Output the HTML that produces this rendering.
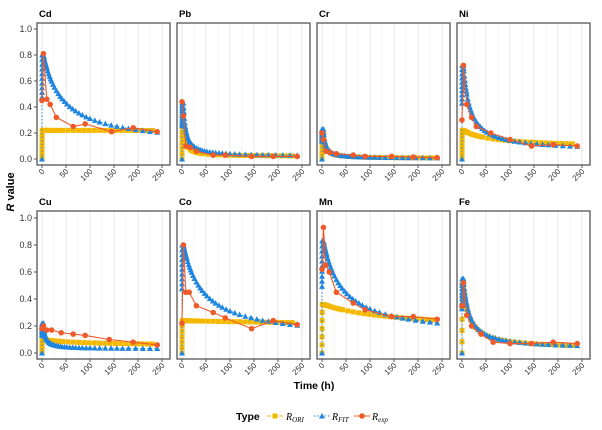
<!DOCTYPE html>
<html><head><meta charset="utf-8"><style>
html,body{margin:0;padding:0;background:#fff;}
svg{display:block;font-family:"Liberation Sans",Arial,sans-serif;}
</style></head><body>
<svg id="s" width="602" height="430" xmlns="http://www.w3.org/2000/svg"></svg>
<script>
const S=document.getElementById('s');
let h='';
const YEL='#f5b800',BLU='#1f86e0',RED='#ef5a2a';
function fitF(p,tail,k,t){return tail+(p-tail)/(1+t/k);}
const panels=[
 {n:'Cd',r:0,c:0,fp:.8,ft:.1,fk:42,op:.22,ot:.21,ok:9999,exp:[[0,.45],[3,.81],[10,.46],[17,.42],[30,.32],[65,.25],[90,.27],[145,.21],[190,.24],[240,.21]]},
 {n:'Pb',r:0,c:1,fp:.43,ft:.02,fk:5,op:.25,ot:.02,ok:4,exp:[[0,.44],[3,.33],[8,.1],[17,.09],[30,.06],[65,.03],[90,.03],[145,.02],[190,.02],[240,.02]]},
 {n:'Cr',r:0,c:2,fp:.23,ft:.005,fk:4,op:.2,ot:.005,ok:4,exp:[[0,.2],[3,.15],[8,.06],[17,.05],[30,.04],[65,.03],[90,.02],[145,.02],[190,.015],[240,.01]]},
 {n:'Ni',r:0,c:3,fp:.72,ft:.06,fk:14,op:.22,ot:.09,ok:60,exp:[[0,.3],[3,.72],[10,.42],[20,.32],[30,.25],[60,.2],[100,.15],[145,.1],[190,.11],[240,.1]]},
 {n:'Cu',r:1,c:0,fp:.22,ft:.03,fk:4,op:.1,ot:.055,ok:80,exp:[[0,.18],[3,.2],[10,.17],[20,.17],[40,.15],[65,.14],[90,.13],[140,.1],[190,.08],[240,.06]]},
 {n:'Co',r:1,c:1,fp:.8,ft:.1,fk:42,op:.24,ot:.2,ok:400,exp:[[0,.22],[3,.8],[8,.45],[15,.45],[30,.35],[65,.3],[90,.26],[145,.18],[190,.24],[240,.21]]},
 {n:'Mn',r:1,c:2,fp:.83,ft:.12,fk:40,op:.36,ot:.17,ok:150,exp:[[0,.62],[3,.93],[8,.65],[15,.6],[30,.45],[65,.37],[90,.32],[145,.27],[190,.27],[240,.25]]},
 {n:'Fe',r:1,c:3,fp:.55,ft:.03,fk:12,op:.5,ot:.03,ok:13,exp:[[0,.35],[3,.52],[10,.28],[20,.2],[40,.14],[65,.08],[100,.07],[145,.07],[190,.08],[240,.07]]},
];
const T=[3,3.5,4,5,6,7,8,9,10,12,14,16,18,20,23,26,30,34,38,42,47,52,58,64,70,77,84,92,100,110,120,132,144,156,168,180,195,210,225,240];
const TO=[];for(let t=3;t<=240;t+=(t<12?2:(t<40?5:11)))TO.push(t);
function tri(x,y){return `<path d="M${x-3},${y+2.5}L${x+3},${y+2.5}L${x},${y-3}Z" fill="${BLU}"/>`;}
function sq(x,y){return `<rect x="${x-2.5}" y="${y-2.5}" width="5" height="5" fill="${YEL}"/>`;}
function dot(x,y){return `<circle cx="${x}" cy="${y}" r="2.8" fill="${RED}"/>`;}
panels.forEach(p=>{
 const x0=37+140*p.c, bt=p.r?211:23, bb=p.r?359:165, y0=p.r?353:159, sc=p.r?135:130;
 const X=t=>x0+5+0.48*t, Y=v=>y0-sc*v;
 for(let t=0;t<=250;t+=25){h+=`<line x1="${X(t)}" y1="${bt}" x2="${X(t)}" y2="${bb}" stroke="${t%50?'#f0f0f0':'#e0e0e0'}" stroke-width="${t%50?0.6:0.8}"/>`;}
 let ori=[[0,0]];for(let i=1;i<=6;i++)ori.push([0.3*i/6, p.op*i/6]);
 TO.forEach(t=>ori.push([t,p.ot+(p.op-p.ot)/(1+(t-3)/p.ok)]));
 h+=`<polyline points="${ori.map(a=>X(a[0])+','+Y(a[1])).join(' ')}" fill="none" stroke="${YEL}" stroke-width="1" stroke-dasharray="4,2"/>`;
 ori.forEach(a=>h+=sq(X(a[0]),Y(a[1])));
 let fit=[[0,0]];for(let i=1;i<=10;i++)fit.push([0.3*i/10,p.fp*(0.55+0.45*i/10)]);
 T.forEach(t=>fit.push([t,fitF(p.fp,p.ft,p.fk,t-3)]));
 h+=`<polyline points="${fit.map(a=>X(a[0])+','+Y(a[1])).join(' ')}" fill="none" stroke="${BLU}" stroke-width="1" stroke-dasharray="1.5,2"/>`;
 fit.forEach(a=>h+=tri(X(a[0]),Y(a[1])));
 h+=`<polyline points="${p.exp.map(a=>X(a[0])+','+Y(a[1])).join(' ')}" fill="none" stroke="${RED}" stroke-width="1.1"/>`;
 p.exp.forEach(a=>h+=dot(X(a[0]),Y(a[1])));
 h+=`<rect x="${x0}" y="${bt}" width="133" height="${bb-bt}" fill="none" stroke="#555" stroke-width="1.3"/>`;
 h+=`<text x="${x0+2}" y="${bt-6}" font-size="9.5" font-weight="bold">${p.n}</text>`;
 for(let t=0;t<=250;t+=50){const xx=X(t);h+=`<line x1="${xx}" y1="${bb}" x2="${xx}" y2="${bb+3}" stroke="#555"/>`;
  h+=`<text transform="translate(${xx+3},${bb+7}) rotate(-45)" text-anchor="end" font-size="8" fill="#333">${t}</text>`;}
 if(p.c==0){for(let v=0;v<=1.001;v+=0.2){const yy=Y(v);h+=`<line x1="${x0-3}" y1="${yy}" x2="${x0}" y2="${yy}" stroke="#555"/>`;
  h+=`<text x="${x0-5}" y="${yy+3}" text-anchor="end" font-size="9" fill="#333">${v.toFixed(1)}</text>`;}}
});
h+=`<text transform="translate(14,192) rotate(-90)" text-anchor="middle" font-size="11" font-weight="bold"><tspan font-style="italic">R</tspan> value</text>`;
h+=`<text x="314" y="389" text-anchor="middle" font-size="10.5" font-weight="bold">Time (h)</text>`;
h+=`<text x="236" y="420" font-size="10.5" font-weight="bold">Type</text>`;
h+=`<line x1="267" y1="416" x2="283" y2="416" stroke="${YEL}" stroke-dasharray="4,2"/>`+sq(275,416);
h+=`<text x="286" y="420" font-size="10" font-style="italic" font-family="Liberation Serif,serif">R<tspan font-size="7" dy="2">ORI</tspan></text>`;
h+=`<line x1="314" y1="416" x2="330" y2="416" stroke="${BLU}" stroke-dasharray="1.5,2"/>`+tri(322,416);
h+=`<text x="332" y="420" font-size="10" font-style="italic" font-family="Liberation Serif,serif">R<tspan font-size="7" dy="2">FIT</tspan></text>`;
h+=`<line x1="354" y1="416" x2="370" y2="416" stroke="${RED}"/>`+dot(362,416);
h+=`<text x="372" y="420" font-size="10" font-style="italic" font-family="Liberation Serif,serif">R<tspan font-size="7" dy="2">exp</tspan></text>`;
S.innerHTML=h;
</script>
</body></html>
